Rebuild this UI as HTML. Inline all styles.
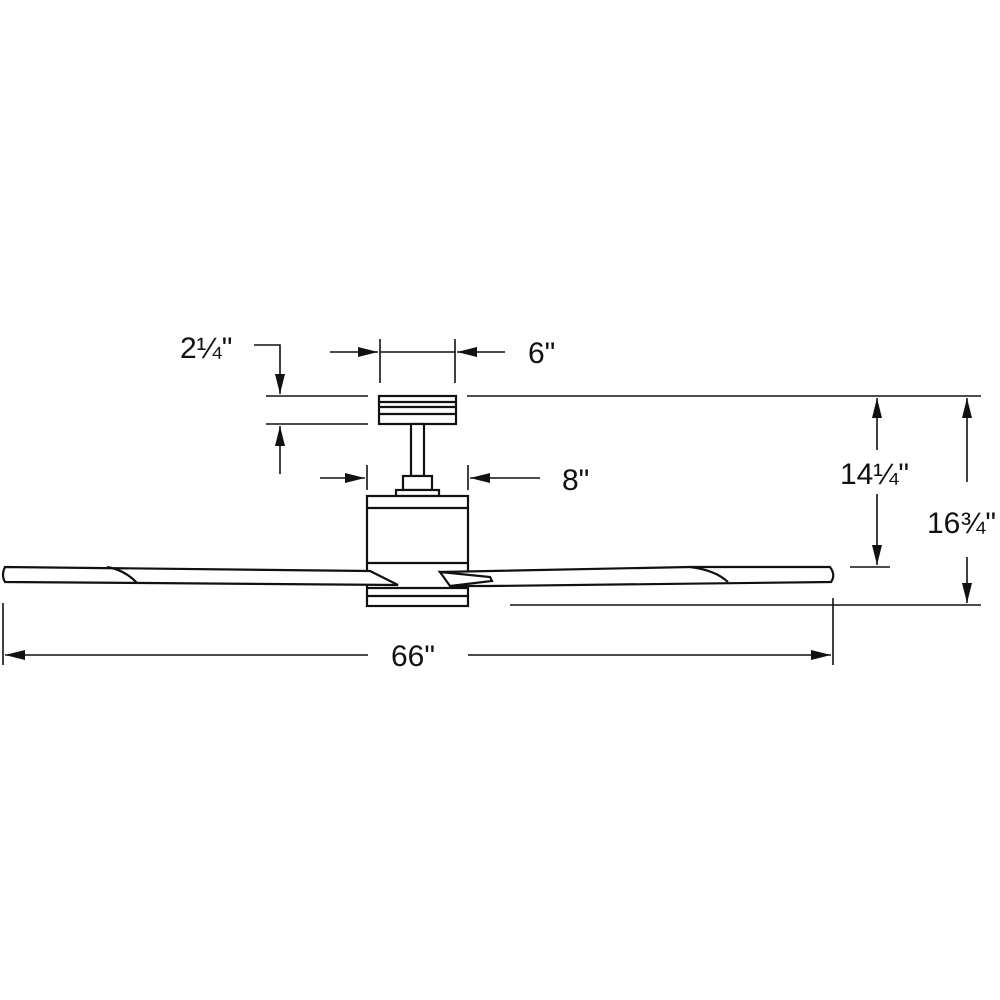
<!DOCTYPE html>
<html><head><style>
html,body{margin:0;padding:0;background:#fff;}
svg{display:block;}
text{font-family:"Liberation Sans",sans-serif;fill:#111;}
</style></head><body>
<svg width="1000" height="1000" viewBox="0 0 1000 1000" xmlns="http://www.w3.org/2000/svg">
<defs>
<marker id="a" viewBox="0 0 20 10" refX="20" refY="5" markerWidth="20" markerHeight="10" markerUnits="userSpaceOnUse" orient="auto"><path d="M0,0 L20,5 L0,10 Z" fill="#111"/></marker>
</defs>
<g stroke="#111" stroke-width="1.6" fill="none">
<!-- 2 1/4 -->
<polyline points="254,345 280,345 280,394" marker-end="url(#a)"/>
<line x1="266" y1="396" x2="368" y2="396"/>
<line x1="266" y1="424" x2="368" y2="424"/>
<line x1="280" y1="474" x2="280" y2="426" marker-end="url(#a)"/>
<!-- 6 -->
<line x1="380" y1="339" x2="380" y2="383"/>
<line x1="455" y1="339" x2="455" y2="383"/>
<line x1="380" y1="352" x2="455" y2="352"/>
<line x1="330" y1="352" x2="378" y2="352" marker-end="url(#a)"/>
<line x1="505" y1="352" x2="457" y2="352" marker-end="url(#a)"/>
<!-- 8 -->
<line x1="367" y1="465" x2="367" y2="490"/>
<line x1="468" y1="465" x2="468" y2="490"/>
<line x1="320" y1="478" x2="365" y2="478" marker-end="url(#a)"/>
<line x1="540" y1="478" x2="470" y2="478" marker-end="url(#a)"/>
<!-- right dims -->
<line x1="467" y1="396" x2="981" y2="396"/>
<line x1="510" y1="605" x2="981" y2="605"/>
<line x1="850" y1="567" x2="890" y2="567"/>
<line x1="877" y1="450" x2="877" y2="398" marker-end="url(#a)"/>
<line x1="877" y1="494" x2="877" y2="565" marker-end="url(#a)"/>
<line x1="967" y1="482" x2="967" y2="398" marker-end="url(#a)"/>
<line x1="967" y1="557" x2="967" y2="603" marker-end="url(#a)"/>
<!-- 66 -->
<line x1="3" y1="603" x2="3" y2="665"/>
<line x1="833" y1="598" x2="833" y2="665"/>
<line x1="368" y1="655" x2="5" y2="655" marker-end="url(#a)"/>
<line x1="468" y1="655" x2="831" y2="655" marker-end="url(#a)"/>
</g>
<g stroke="#111" stroke-width="2.2" fill="#fff">
<!-- canopy -->
<rect x="379" y="396" width="77" height="28"/>
<line x1="379" y1="402" x2="456" y2="402"/>
<line x1="379" y1="407" x2="456" y2="407"/>
<line x1="379" y1="414" x2="456" y2="414"/>
<rect x="411" y="424" width="13" height="52"/>
<rect x="403" y="476" width="29" height="14"/>
<rect x="396" y="490" width="43" height="6"/>
<!-- housing -->
<rect x="367" y="496" width="101" height="110"/>
<line x1="367" y1="508" x2="468" y2="508"/>
<line x1="367" y1="563" x2="468" y2="563"/>
<line x1="367" y1="588" x2="468" y2="588"/>
<line x1="367" y1="596" x2="468" y2="596"/>
<!-- left blade -->
<path d="M5,567 L370,571 L398,585 L145,583 L5,582 Q1,575 5,567 Z"/>
<path d="M107,567 Q125,570 137,583" fill="none"/>
<!-- right blade -->
<path d="M440,572 L690,567 L830,567 Q836,575 831,582 L490,586 L452,586 Z"/>
<path d="M690,567 Q715,570 728,582" fill="none"/>
<path d="M440,572 L490,577 L492,581 L450,586 Z"/>
</g>
<g font-size="30">
<text x="180" y="358">2¼"</text>
<text x="528" y="363">6"</text>
<text x="562" y="490">8"</text>
<text x="840" y="484">14¼"</text>
<text x="927" y="533">16¾"</text>
<text x="391" y="666">66"</text>
</g>
</svg>
</body></html>
